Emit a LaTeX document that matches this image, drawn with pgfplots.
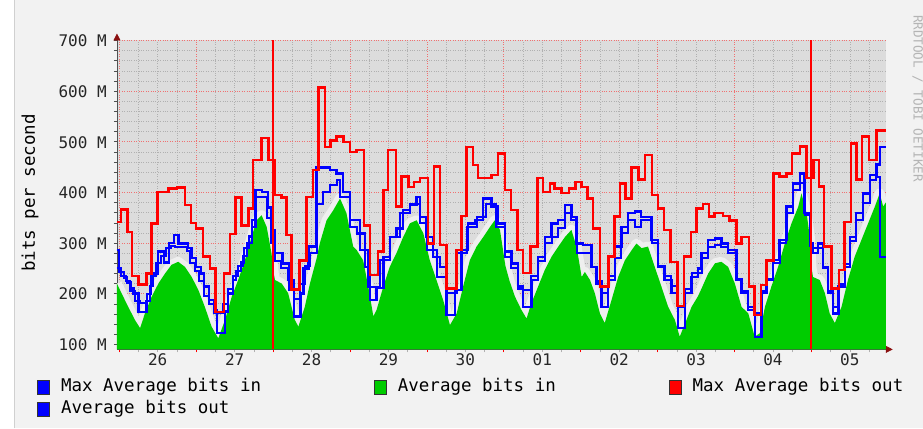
\documentclass[border=0pt]{standalone}
\usepackage{fontspec}
\setmainfont{DejaVu Sans Mono}
\usepackage{pgfplots}
\usepackage{pgfplotstable}
\pgfplotsset{compat=1.18}
\usetikzlibrary{arrows.meta}

\definecolor{canvasbg}{HTML}{F2F2F2}
\definecolor{plotbg}{HTML}{DCDCDC}
\definecolor{rrdgreen}{HTML}{00CC00}
\definecolor{rrdblue}{HTML}{0000FF}
\definecolor{rrdred}{HTML}{FF0000}
\definecolor{mgrid}{HTML}{F07070}
\definecolor{mingrid}{HTML}{B0B0B0}
\definecolor{halocol}{HTML}{EFEFEF}
\definecolor{axiscol}{HTML}{505050}
\definecolor{arrowcol}{HTML}{8B1010}
\definecolor{framecol}{HTML}{D0D0D0}
\definecolor{wmark}{HTML}{B4B4B4}

% hours since 26th 00:00, value in Mbit/s
\pgfplotstableread{
x y
-0.72 220
0.7 201
2.8 174
4.9 148
6.5 132
8 161
10.1 194
12.2 220
14.3 240
16.3 257
18.4 263
20.5 253
22.6 233
24.7 207
26.7 174
28.8 135
30.9 112
33 148
35.1 194
37.1 227
39.2 266
41.3 312
42.9 345
44.4 355
46 332
47.5 280
48.2 240
48.6 227
50.7 220
52.7 201
54.8 148
55.9 135
57.9 174
59.5 220
61.6 270
62.6 300
64.7 345
66.8 365
68.9 388
70.9 359
73 293
74.1 286
76.1 266
77.7 214
79.3 155
80.3 168
82.4 214
84.4 253
86.5 280
88.6 312
90.7 339
92.8 345
94.9 319
96.9 266
99 227
101.1 187
103.2 138
105.3 161
107.3 214
109.4 266
111.5 293
113.6 312
115.7 332
117.2 345
118.8 326
120.5 255
121.8 225
123.5 194
125.5 168
127.1 151
128.6 181
130.7 214
132.8 247
134.9 273
137 293
139.1 312
141.1 326
142.7 293
144.3 233
145.3 243
146.9 227
148.4 201
150 161
151.5 142
153.6 187
155.7 233
157.8 266
159.9 286
161.4 299
163 290
165 293
167.1 253
169.2 214
171.3 174
173.4 148
174.9 115
177 148
178.6 174
180.6 195
181.7 210
183.8 240
185.9 260
187.9 263
190 253
192.1 220
194.2 174
196.3 161
198.3 115
199.9 122
201.5 174
203.5 214
205.6 253
207.7 299
209.8 339
211.9 372
212.9 398
214.5 359
215.5 312
216 253
216.5 233
218.6 227
220.2 201
221.7 161
223.3 142
225.4 174
227.4 227
229.5 273
231.6 306
233.7 339
235.8 372
237.3 398
238.4 372
239.2 380
}\greendata

\pgfplotstableread{
x y
-0.72 342
0.5 366
2.5 322
4 235
6 218
8.5 240
10 339
12 401
15.3 408
18 410
20.5 375
22.4 340
24 329
26.2 273
28.3 250
30 164
32.7 240
34.5 318
36.3 390
38.2 335
40.3 368
41.8 464
44.4 507
46.5 464
48.4 395
50.7 390
52.2 316
53.8 208
56.2 266
58.5 391
60.5 444
62.1 607
64.2 490
65.9 503
67.8 510
69.9 500
72 480
74.1 484
76.3 335
78.2 237
80.8 283
82.4 405
83.9 484
86.3 372
88.1 431
90.2 411
91.9 421
93.8 428
96.4 299
98.2 451
100.1 296
102.1 210
105.3 286
106.8 353
108.4 490
110.4 454
112 428
116.2 434
118.2 477
120.3 405
122.2 365
124.3 286
126 241
128.4 293
130.5 428
132.3 401
134.4 418
135.9 408
138 399
140.3 408
142.4 421
144.3 411
146.1 388
147.9 329
150 214
152.6 273
154.6 352
156.2 418
158 388
159.9 449
162 426
164 474
166.3 395
168.2 368
170 326
172.1 263
174.2 176
176.3 273
178.4 322
180.1 368
182.2 377
184 352
185.8 359
188.4 353
190.5 345
192.6 299
194.2 312
196.5 214
198.3 158
200.2 217
202 266
204.1 437
206.1 431
208.2 437
210 477
212.4 491
214.5 428
216.6 464
218.3 412
220 293
222.3 210
224.6 247
226.4 342
228.3 497
230.1 426
231.8 510
233.9 464
236.3 522
239.2 522
}\reddata

\pgfplotstableread{
x y
-0.72 286
0 243
1.5 232
2.5 222
3.5 210
4.5 200
6 164
8.5 185
9.5 215
10.5 240
12 283
14 262
15.5 300
17 316
18.5 299
21.5 290
22.5 270
24 253
25.5 240
26.5 214
28 187
29.5 168
30.5 122
33 165
34 200
35.5 227
36.5 245
38 262
39 290
40.5 313
41.5 332
42.5 405
44.5 401
46.5 370
47.5 326
48.5 280
51 260
53 207
54.5 155
56.5 200
57.5 250
59 293
61.6 449
65.7 444
67.8 437
69.9 401
72 332
74.1 319
76.6 253
78.2 187
80.3 211
82.4 273
84.4 312
86.5 329
88.6 365
90.7 375
92.8 391
93.8 352
95.9 312
97.9 273
100.1 253
102.1 158
104.7 207
106.8 286
108.9 339
111 345
113.6 388
116.2 372
118.2 339
120.3 283
122.4 260
124.5 210
126 174
128.6 227
130.7 273
132.8 312
134.9 339
137 345
139.1 375
141.1 352
142.7 299
144.8 296
147.4 253
148.9 220
150.5 174
152.6 227
154.7 293
156.7 332
158.8 359
160.9 362
162.9 352
166.1 306
168.2 253
170.2 227
172.3 201
174.4 132
176.5 201
178.6 233
180.6 250
181.7 280
183.8 306
185.9 309
187.9 299
190 286
192.6 227
194.2 201
196.3 168
198.3 115
200.4 201
202 227
204.1 266
206.1 306
208.2 372
210.3 418
212.4 437
213.9 359
215.5 299
216.5 290
218.1 299
219.7 253
221.2 201
222.8 161
224.5 214
226.4 253
228 312
230 359
232.1 398
234.2 434
236.3 455
237.4 490
239.2 490
}\maxindata

\pgfplotstableread{
x y
-0.72 250
0.5 235
2 225
3.5 205
5 185
6.5 181
8.5 200
10 235
11.5 260
13 275
14.5 290
16 295
17.5 293
21 285
22 260
23.5 245
25 225
26.5 195
28 180
29.5 161
32.5 180
34 210
35.5 235
37 255
38.5 275
40 300
41.5 345
42.5 391
44.5 391
46 350
47.5 300
48.5 265
50.5 250
52.5 227
54.5 190
56.5 220
58 255
59.5 280
61.6 378
63.6 400
65.7 415
67.8 424
69 391
72 345
75.1 286
77.7 214
81.3 266
84.4 312
87.6 359
90.7 378
93.8 339
95.9 286
99 233
102.1 201
105.3 280
108.4 332
111.5 352
114.6 378
117.7 332
120.3 273
122.4 250
124.5 215
126 207
128.6 235
130.7 265
132.8 300
134.9 312
137 330
139.1 359
141.1 345
142.7 280
144.8 280
147.4 253
148.9 225
150.5 201
152.6 235
154.7 270
156.7 320
158.8 345
160.9 332
162.9 345
166.1 300
168.2 255
170.2 235
172.3 215
174.4 174
176.5 210
178.6 240
180.6 240
181.7 270
183.8 293
185.9 296
187.9 292
190 280
192.6 230
194.2 205
196.3 174
198.3 161
200.4 205
202 230
204.1 260
206.1 300
208.2 360
210.3 405
212.4 418
213.9 355
215.5 295
216.5 280
218.1 290
219.7 250
221.2 205
222.8 174
224.5 220
226.4 258
228 305
230 345
232.1 380
234.2 424
236.3 431
237.4 273
239.2 273
}\avgoutdata

\begin{document}
\begin{tikzpicture}[x=1pt,y=1pt]
\fill[canvasbg] (0,0) rectangle (923,428);
\fill[white] (0,0) rectangle (14,428);
\draw[framecol,line width=1pt] (14.5,0) -- (14.5,428);
\node[rotate=-90, text=wmark, font=\fontsize{12.6}{14}\selectfont, inner sep=0pt] at (918,330) {RRDTOOL / TOBI OETIKER};
\begin{axis}[
  at={(117pt,79pt)}, anchor=south west,
  scale only axis, width=769pt, height=309pt,
  xmin=-0.72, xmax=239.2, ymin=90, ymax=700,
  axis background/.style={fill=plotbg},
  axis x line=bottom, axis y line=left,
  every outer x axis line/.append style={draw=axiscol, line width=0.8pt, shorten >=-7pt, -{Triangle[width=7pt,length=7pt,color=arrowcol]}},
  every outer y axis line/.append style={draw=axiscol, line width=0.8pt, shorten >=-7pt, -{Triangle[width=7pt,length=7pt,color=arrowcol]}},
  xtick={0,24,48,72,96,120,144,168,192,216},
  xticklabels={,,,,,,,,,},
  minor xtick={6,12,18,30,36,42,54,60,66,78,84,90,102,108,114,126,132,138,150,156,162,174,180,186,198,204,210,222,228,234},
  extra x ticks={12,36,60,84,108,132,156,180,204,228},
  extra x tick labels={26,27,28,29,30,01,02,03,04,05},
  extra x tick style={grid=none, major tick length=0pt},
  ytick={100,200,300,400,500,600,700},
  yticklabels={100 M,200 M,300 M,400 M,500 M,600 M,700 M},
  minor ytick={120,140,160,180,220,240,260,280,320,340,360,380,420,440,460,480,520,540,560,580,620,640,660,680},
  grid=both,
  major grid style={mgrid, dotted, line width=0.7pt},
  minor grid style={mingrid, dotted, line width=0.7pt},
  tick align=outside,
  major tick length=3pt, minor tick length=3pt,
  major x tick style={rrdred, line width=0.6pt},
  minor x tick style={mingrid, line width=0.6pt},
  y tick style={axiscol, line width=0.6pt},
  ticklabel style={font=\fontsize{16}{18}\selectfont, text=black!85},
  xticklabel style={anchor=base, inner sep=0pt, yshift=-16pt},
  yticklabel style={anchor=base east, inner sep=0pt, xshift=-7pt, yshift=-6.3pt},
  ylabel={bits per second},
  ylabel style={at={(axis description cs:-0.113,0.5065)}, anchor=center, font=\fontsize{17.5}{20}\selectfont},
  legend columns=3,
  legend cell align=left,
  legend style={at={(axis description cs:-0.104,-0.0955)}, anchor=north west,
    draw=none, fill=none, inner xsep=0pt, inner ysep=0pt,
    font=\fontsize{17.5}{20}\selectfont,
    nodes={inner sep=0pt, text height=12pt, text depth=4pt},
    /tikz/column sep=0pt, row sep=6.5pt,
    /tikz/every odd column/.append style={column sep=11pt},
    /tikz/every even column/.append style={column sep=113pt}},
]
\addlegendimage{legend image code/.code={\filldraw[draw=black!80,fill=rrdblue,line width=0.8pt] (0pt,-7pt) rectangle (12pt,7pt);}}
\addlegendentry{Max Average bits in}
\addlegendimage{legend image code/.code={\filldraw[draw=black!80,fill=rrdgreen,line width=0.8pt] (0pt,-7pt) rectangle (12pt,7pt);}}
\addlegendentry{Average bits in}
\addlegendimage{legend image code/.code={\filldraw[draw=black!80,fill=rrdred,line width=0.8pt] (0pt,-7pt) rectangle (12pt,7pt);}}
\addlegendentry{Max Average bits out}
\addlegendimage{legend image code/.code={\filldraw[draw=black!80,fill=rrdblue,line width=0.8pt] (0pt,-7pt) rectangle (12pt,7pt);}}
\addlegendentry{Average bits out}

\addplot[forget plot, color=halocol, line width=10pt, line join=round] table[x=x,y=y] {\greendata};
\addplot[forget plot, fill=rrdgreen, draw=none] table[x=x,y=y] {\greendata} \closedcycle;
\addplot[forget plot, const plot, color=rrdblue, line width=2.4pt] table[x=x,y=y] {\maxindata};
\addplot[forget plot, const plot, color=rrdblue, line width=2pt] table[x=x,y=y] {\avgoutdata};
\addplot[forget plot, const plot, color=rrdred, line width=2.5pt] table[x=x,y=y] {\reddata};
\addplot[forget plot, color=rrdred, line width=2pt] coordinates {(48,90) (48,700)};
\addplot[forget plot, color=rrdred, line width=2pt] coordinates {(216,90) (216,700)};
\end{axis}
\end{tikzpicture}
\end{document}
